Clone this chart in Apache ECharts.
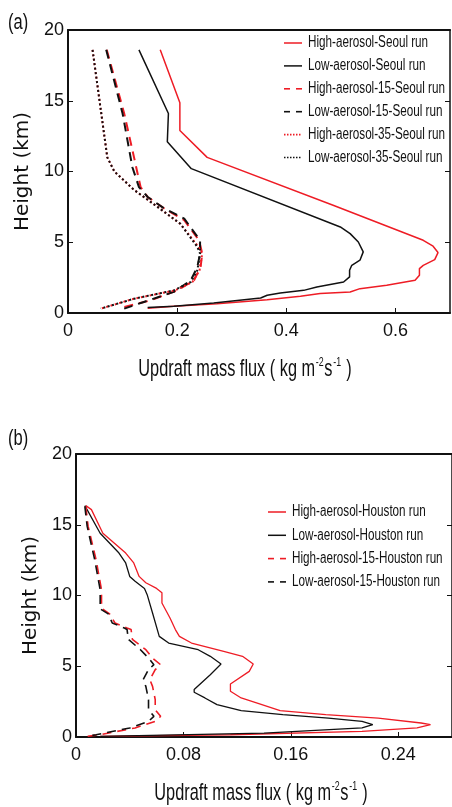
<!DOCTYPE html>
<html><head><meta charset="utf-8">
<script src="https://cdn.jsdelivr.net/npm/echarts@6/dist/echarts.min.js"></script>
<style>html,body{margin:0;padding:0;background:#fff}#c{width:452px;height:807px}</style>
</head><body><div id="c"></div>
<script>
// ---- Panel (a): Seoul runs, [mass flux, height km]
const seoulHigh = [[0.169,18.6],[0.205,14.86],[0.205,12.9],[0.255,11.0],[0.487,7.6],[0.651,5.14],[0.669,4.72],[0.678,4.27],[0.672,3.77],[0.651,3.37],[0.644,3.14],[0.644,2.67],[0.636,2.31],[0.584,1.96],[0.535,1.72],[0.517,1.49],[0.462,1.37],[0.426,1.18],[0.365,0.94],[0.273,0.66],[0.194,0.47],[0.146,0.33]];
const seoulLow = [[0.130,18.6],[0.184,14.1],[0.182,12.1],[0.226,10.2],[0.499,6.08],[0.517,5.61],[0.532,5.02],[0.541,4.32],[0.535,3.73],[0.520,3.37],[0.516,3.02],[0.516,2.55],[0.505,2.19],[0.456,1.84],[0.432,1.60],[0.389,1.42],[0.365,1.25],[0.353,1.06],[0.267,0.71],[0.194,0.47],[0.146,0.38]];
const seoulHigh15 = [[0.071,18.6],[0.103,14.1],[0.121,11.0],[0.133,8.9],[0.146,8.2],[0.176,7.4],[0.213,6.56],[0.240,5.14],[0.246,4.2],[0.243,3.25],[0.231,2.31],[0.200,1.60],[0.152,0.90],[0.103,0.42]];
const seoulLow15 = [[0.070,18.6],[0.100,14.1],[0.118,10.3],[0.130,8.9],[0.146,8.2],[0.176,7.4],[0.213,6.67],[0.242,5.14],[0.242,4.2],[0.237,3.25],[0.225,2.31],[0.194,1.49],[0.139,0.78],[0.103,0.31]];
const seoulHigh35 = [[0.045,18.6],[0.072,11.0],[0.085,10.0],[0.121,8.7],[0.164,7.5],[0.206,6.3],[0.239,4.67],[0.246,4.2],[0.241,3.02],[0.228,2.19],[0.196,1.60],[0.121,1.01],[0.060,0.31]];
const seoulLow35 = [[0.045,18.6],[0.072,11.0],[0.085,10.0],[0.121,8.7],[0.164,7.5],[0.206,6.3],[0.237,4.67],[0.242,4.2],[0.237,3.02],[0.225,2.19],[0.194,1.60],[0.121,1.01],[0.060,0.31]];
const seoulNames = ['High-aerosol-Seoul run','Low-aerosol-Seoul run','High-aerosol-15-Seoul run','Low-aerosol-15-Seoul run','High-aerosol-35-Seoul run','Low-aerosol-35-Seoul run'];

// ---- Panel (b): Houston runs
const houstonHigh = [[0.0073,16.35],[0.0115,16.07],[0.020,14.4],[0.037,13.0],[0.043,12.3],[0.047,11.35],[0.052,10.9],[0.060,10.5],[0.064,10.2],[0.064,9.47],[0.070,8.41],[0.074,7.59],[0.077,7.11],[0.086,6.64],[0.110,6.05],[0.124,5.70],[0.132,5.16],[0.129,4.64],[0.115,3.75],[0.115,3.23],[0.123,2.76],[0.135,2.40],[0.152,1.86],[0.186,1.58],[0.225,1.34],[0.257,0.99],[0.264,0.87],[0.254,0.64],[0.213,0.40],[0.115,0.16],[0.018,0.05]];
const houstonLow = [[0.0066,16.35],[0.018,14.4],[0.032,13.0],[0.037,12.3],[0.040,11.35],[0.044,11.0],[0.051,10.5],[0.053,10.06],[0.057,8.76],[0.062,7.11],[0.069,6.64],[0.091,6.17],[0.100,5.70],[0.108,5.16],[0.100,4.4],[0.088,3.35],[0.088,3.16],[0.096,2.76],[0.105,2.29],[0.123,1.86],[0.154,1.58],[0.188,1.34],[0.213,1.11],[0.221,0.87],[0.213,0.64],[0.140,0.28],[0.018,0.05]];
const houstonHigh15 = [[0.0073,16.3],[0.009,14.9],[0.015,12.5],[0.019,10.4],[0.019,9.1],[0.025,8.7],[0.029,8.06],[0.038,7.7],[0.041,7.6],[0.042,6.9],[0.052,6.17],[0.057,5.58],[0.063,5.11],[0.059,4.76],[0.055,4.05],[0.057,3.58],[0.059,2.64],[0.059,1.93],[0.063,1.46],[0.059,1.11],[0.044,0.64],[0.018,0.16],[0.008,0.05]];
const houstonLow15 = [[0.0066,16.3],[0.0083,14.9],[0.014,12.5],[0.018,10.4],[0.018,9.05],[0.024,8.7],[0.027,8.06],[0.036,7.7],[0.038,7.6],[0.039,6.9],[0.048,6.17],[0.054,5.58],[0.058,5.11],[0.054,4.76],[0.050,4.05],[0.052,3.58],[0.054,2.64],[0.054,1.93],[0.058,1.46],[0.054,1.11],[0.040,0.64],[0.015,0.16],[0.008,0.05]];
const houstonNames = ['High-aerosol-Houston run','Low-aerosol-Houston run','High-aerosol-15-Houston run','Low-aerosol-15-Houston run'];

const xMaxA = 0.7, xStepA = 0.2;
const xMaxB = 0.28, xStepB = 0.08;
const yMax = 20, yStep = 5;

const RED = '#ee1c25', BLK = '#111';
const SANS = '"Liberation Sans",Arial,sans-serif';
const DASH = [9, 6], DOT = [2, 2.5];

function xAx(gi, max, interval) {
  return {
    gridIndex: gi, type: 'value', min: 0, max: max, interval: interval,
    axisLine: {onZero: false, lineStyle: {color: '#111', width: 2}},
    axisTick: {inside: true, length: 5, lineStyle: {color: '#111', width: 1}},
    splitLine: {show: false},
    axisLabel: {color: '#111', fontFamily: SANS, fontSize: 18, margin: 9,
      formatter: v => (v === 0 ? '0' : String(+v.toFixed(2))),
      showMaxLabel: false}
  };
}
function xTop(gi, max) {
  return {gridIndex: gi, type: 'value', position: 'top', min: 0, max: max,
    axisLine: {onZero: false, lineStyle: {color: '#111', width: 2}},
    axisTick: {show: false}, axisLabel: {show: false}, splitLine: {show: false}};
}
function yAx(gi) {
  return {gridIndex: gi, type: 'value', min: 0, max: yMax, interval: yStep,
    axisLine: {onZero: false, lineStyle: {color: '#111', width: 2}},
    axisTick: {inside: true, length: 5, lineStyle: {color: '#111', width: 1}},
    splitLine: {show: false},
    axisLabel: {color: '#111', fontFamily: SANS, fontSize: 18, margin: 4},
    name: 'Height (km)', nameLocation: 'middle', nameRotate: 90, nameGap: 32,
    nameTextStyle: {fontFamily: '"DejaVu Sans",sans-serif', fontSize: 20, color: '#111'}
  };
}
function yRight(gi) {
  return {gridIndex: gi, type: 'value', position: 'right', min: 0, max: yMax, interval: yStep,
    axisLine: {onZero: false, lineStyle: {color: '#111', width: 1.5}},
    axisTick: {inside: true, length: 5, lineStyle: {color: '#111', width: 1}},
    axisLabel: {show: false}, splitLine: {show: false}};
}

function ser(name, data, color, type, width, xi, yi) {
  return {name, type: 'line', data, xAxisIndex: xi, yAxisIndex: yi,
    showSymbol: false, symbol: 'none', smooth: false, animation: false,
    lineStyle: {color, type, width}, itemStyle: {color}};
}

const seoulStyles = [[RED,'solid',1.5],[BLK,'solid',1.5],[RED,DASH,2],[BLK,DASH,2],[RED,DOT,2],[BLK,DOT,2]];
const houstonStyles = [[RED,'solid',1.3],[BLK,'solid',1.3],[RED,DASH,1.6],[BLK,DASH,1.6]];

// legend drawn as graphic (condensed text)
function legendGraphic(names, styles, x0, y0, dy) {
  const out = [];
  names.forEach((n, i) => {
    const y = y0 + i * dy;
    const st = styles[i];
    const dash = st[1] === 'solid' ? null : (st[1] === DASH ? [6, 6] : [1.5, 1.5]);
    out.push({type: 'line', shape: {x1: x0, y1: y, x2: x0 + 18, y2: y},
      style: {stroke: st[0], lineWidth: st[1] === 'solid' ? 1.5 : 1.6, lineDash: dash}});
    out.push({type: 'text', x: x0 + 24, y: y, scaleX: 0.73,
      style: {text: n, fontFamily: SANS, fontSize: 16, fill: '#111', textVerticalAlign: 'middle', textAlign: 'left'}});
  });
  return out;
}
function axisNameGraphic(cx, cy) {
  return {type: 'text', x: cx, y: cy, scaleX: 0.68,
    style: {text: '{t|Updraft mass flux ( kg m}{s|-2}{t|s}{s|-1}{t| )}', textAlign: 'center', textVerticalAlign: 'middle',
      rich: {t: {fontFamily: SANS, fontSize: 24, fill: '#111', lineHeight: 26},
             s: {fontFamily: SANS, fontSize: 13, fill: '#111', verticalAlign: 'top', lineHeight: 26, padding: [0, 1, 14, 1]}}}};
}

const option = {
  backgroundColor: '#fff',
  animation: false,
  grid: [
    {left: 68, top: 30, width: 382, height: 283},
    {left: 76, top: 454, width: 382, height: 283}
  ],
  xAxis: [xAx(0, xMaxA, xStepA), xTop(0, xMaxA), xAx(1, xMaxB, xStepB), xTop(1, xMaxB)],
  yAxis: [yAx(0), yRight(0), yAx(1), yRight(1)],
  graphic: [
    {type: 'text', x: 8, y: 23, scaleX: 0.75, style: {text: '(a)', fontFamily: SANS, fontSize: 22, fill: '#111', textVerticalAlign: 'middle'}},
    {type: 'text', x: 8, y: 439, scaleX: 0.75, style: {text: '(b)', fontFamily: SANS, fontSize: 22, fill: '#111', textVerticalAlign: 'middle'}},
    axisNameGraphic(245, 369),
    axisNameGraphic(261, 793)
  ].concat(legendGraphic(seoulNames, seoulStyles, 284, 43, 22.9))
   .concat(legendGraphic(houstonNames, houstonStyles, 268, 512, 23.3)),
  series: [
    ser(seoulNames[0], seoulHigh, RED, 'solid', 1.5, 0, 0),
    ser(seoulNames[1], seoulLow, BLK, 'solid', 1.5, 0, 0),
    ser(seoulNames[2], seoulHigh15, RED, DASH, 2, 0, 0),
    ser(seoulNames[3], seoulLow15, BLK, DASH, 2, 0, 0),
    ser(seoulNames[4], seoulHigh35, RED, DOT, 2, 0, 0),
    ser(seoulNames[5], seoulLow35, BLK, DOT, 2, 0, 0),
    ser(houstonNames[0], houstonHigh, RED, 'solid', 1.3, 2, 2),
    ser(houstonNames[1], houstonLow, BLK, 'solid', 1.3, 2, 2),
    ser(houstonNames[2], houstonHigh15, RED, DASH, 1.6, 2, 2),
    ser(houstonNames[3], houstonLow15, BLK, DASH, 1.6, 2, 2)
  ]
};
const chart = echarts.init(document.getElementById('c'), null, {renderer: 'canvas'});
chart.setOption(option);
</script></body></html>
